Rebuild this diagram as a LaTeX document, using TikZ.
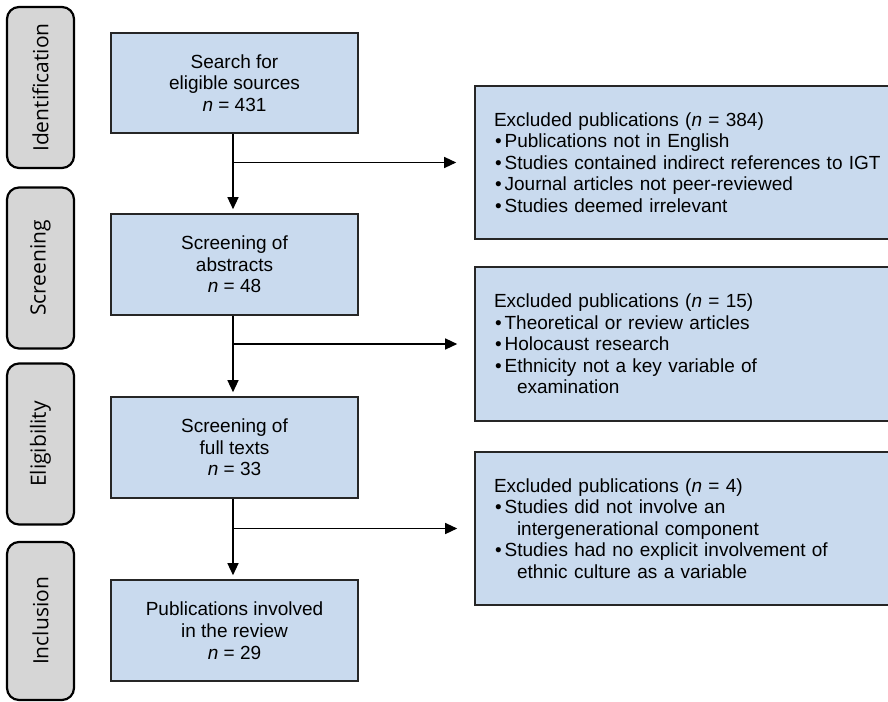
\documentclass[tikz,border=0pt]{standalone}
\usepackage{fontspec}
\setmainfont{Liberation Sans}
\newfontfamily\phasefont{Open Sans}
\usepackage{xcolor}
\usetikzlibrary{arrows.meta, positioning}

\definecolor{boxblue}{HTML}{C9DAEE}
\definecolor{phasegrey}{HTML}{D6D6D6}

\tikzset{
    phase/.style={draw=black, fill=phasegrey, line width=2.2pt, rounded corners=12pt,
        rotate=90, minimum width=161, minimum height=67, inner sep=0pt,
        font=\phasefont\fontsize{21}{24}\selectfont},
    stage/.style={draw=black!85, fill=boxblue, line width=1.6pt, align=center,
        minimum width=247, minimum height=101, inner sep=0pt,
        font=\fontsize{19}{21.7}\selectfont},
    excl/.style={draw=black!85, fill=boxblue, line width=1.6pt, align=left,
        text width=387pt, inner xsep=19pt, minimum height=153,
        font=\fontsize{19}{21.6}\selectfont},
    flow/.style={line width=1.3pt, ->},
    >={Triangle[length=12pt,width=11pt]}
}
\newcommand{\itm}{\hspace*{1pt}\textbullet\hspace{3pt}}

\begin{document}
\begin{tikzpicture}[x=1pt, y=-1pt]
    \clip (0,0) rectangle (888,701);
    \fill[white] (0,0) rectangle (888,701);

    \node[phase] (ident) at (40.5, 87.5) {Identification};
    \node[phase] (scr) at (40.5, 268) {Screening};
    \node[phase] (elig) at (40.5, 444) {Eligibility};
    \node[phase, minimum width=158] (incl) at (40.5, 621) {Inclusion};

    \node[stage, minimum height=100] (search) at (234.5, 83) {Search for\\eligible sources\\\textit{n} = 431};
    \node[stage] (abs) at (234.5, 264.5) {Screening of\\abstracts\\\textit{n} = 48};
    \node[stage] (full) at (234.5, 447.5) {Screening of\\full texts\\\textit{n} = 33};
    \node[stage] (pub) at (234.5, 630.5) {Publications involved\\in the review\\\textit{n} = 29};

    \node[excl] (ex1) at (687.5, 162.5) {Excluded publications (\textit{n} = 384)\\
        \itm Publications not in English\\
        \itm Studies contained indirect references to IGT\\
        \itm Journal articles not peer-reviewed\\
        \itm Studies deemed irrelevant};
    \node[excl, minimum height=154] (ex2) at (687.5, 344) {Excluded publications (\textit{n} = 15)\\
        \itm Theoretical or review articles\\
        \itm Holocaust research\\
        \itm Ethnicity not a key variable of\\
        \hspace*{23pt}examination};
    \node[excl] (ex3) at (687.5, 528.5) {Excluded publications (\textit{n} = 4)\\
        \itm Studies did not involve an\\
        \hspace*{23pt}intergenerational component\\
        \itm Studies had no explicit involvement of\\
        \hspace*{23pt}ethnic culture as a variable};

    % main flow
    \draw[flow, shorten >=4pt] ([xshift=-1.5pt]search.south) -- ([xshift=-1.5pt]abs.north);
    \draw[flow, shorten >=4pt] ([xshift=-1.5pt]abs.south) -- ([xshift=-1.5pt]full.north);
    \draw[flow, shorten >=4pt] ([xshift=-1.5pt]full.south) -- ([xshift=-1.5pt]pub.north);

    % exclusions
    \draw[flow] ([xshift=-1.5pt]search.south |- ex1.west) -- ([xshift=-18pt]ex1.west);
    \draw[flow] ([xshift=-1.5pt]abs.south |- ex2.west) -- ([xshift=-17pt]ex2.west);
    \draw[flow] ([xshift=-1.5pt]full.south |- ex3.west) -- ([xshift=-17pt]ex3.west);
\end{tikzpicture}
\end{document}
